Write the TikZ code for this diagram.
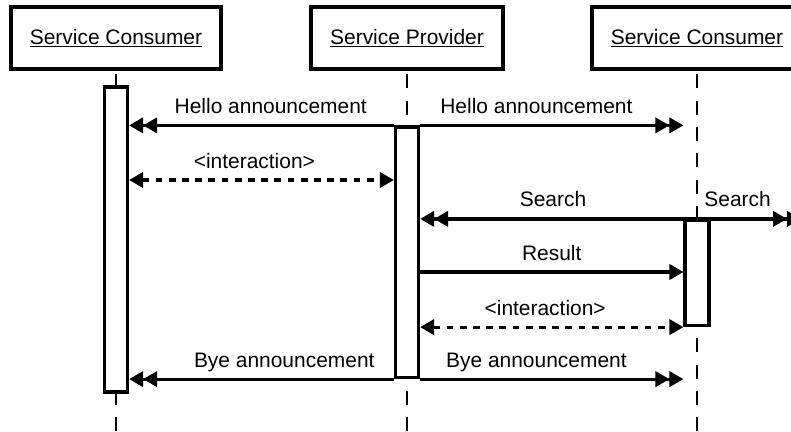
\documentclass[tikz,border=0pt]{standalone}
\usepackage{fontspec}
\setmainfont{Liberation Sans}
\usetikzlibrary{arrows.meta,positioning,calc}
\tikzset{
    actor/.style={draw,fill=white,line width=2.3pt,minimum width=5.25cm,
      minimum height=1.55cm,inner sep=0pt},
    lifeline/.style={line width=1.3pt,dash pattern=on 3.5mm off 3.1mm},
    actbar/.style={draw,fill=white,line width=2.3pt,minimum width=5.75mm,inner sep=0pt},
    msg/.style={line width=2.3pt},
    dbl/.style={-{Triangle[length=3.5mm,width=3.8mm,sep=0pt]Triangle[length=3.5mm,width=3.8mm,sep=0pt]}},
    sgl/.style={-{Triangle[length=3.5mm,width=3.8mm]}},
    twoway/.style={{Triangle[length=3.5mm,width=3.8mm]}-{Triangle[length=3.5mm,width=3.8mm]}},
    ret/.style={dash pattern=on 1.7mm off 1.6mm},
    msglabel/.style={anchor=base,yshift=3mm,inner sep=0pt}
}
\begin{document}
\begin{tikzpicture}[font={\fontsize{14.9}{18}\selectfont}]
  \clip (0,0) rectangle (19.775,-10.8);
  \node[actor] (cons1) at (2.9,-0.95) {\underline{Service Consumer}};
  \node[actor,minimum width=4.8cm] (prov) at (10.175,-0.95) {\underline{Service Provider}};
  \node[actor] (cons2) at (17.425,-0.95) {\underline{Service Consumer}};
  \draw[lifeline] ([yshift=-0.9mm]cons1.south) -- ++(0,-9.3);
  \draw[lifeline] ([yshift=-0.9mm]prov.south) -- ++(0,-9.3);
  \draw[lifeline] ([yshift=-0.9mm]cons2.south) -- ++(0,-9.3);
  \node[actbar,minimum height=7.625cm] (act1) at (2.9,-5.9875) {};
  \node[actbar,minimum height=6.2625cm] (actP) at (10.175,-6.30625) {};
  \node[actbar,minimum width=6mm,minimum height=2.625cm] (act3) at (17.425,-6.825) {};
  \coordinate (inter) at (0,-4.5);
  \coordinate (res) at (0,-6.8);
  \coordinate[right=2.6cm of act3.north] (srchout);
  \draw[msg,dbl] (actP.north west) -- node[msglabel,pos=.465]{Hello announcement} (act1.east |- actP.north west);
  \draw[msg,dbl,shorten >=3.4mm] (actP.north east) -- node[msglabel,pos=.42]{Hello announcement} (cons2 |- actP.north east);
  \draw[msg,twoway,ret] (act1.east |- inter) -- node[msglabel,pos=.473]{<interaction>} (actP.west |- inter);
  \draw[msg,dbl] (act3.north) -- node[msglabel,pos=.52]{Search} (actP.east |- act3.north);
  \draw[msg,dbl] (act3.north) -- node[msglabel,pos=.39]{Search} (srchout);
  \draw[msg,sgl] (actP.east |- res) -- node[msglabel,pos=.5]{Result} (act3.west |- res);
  \draw[msg,twoway,ret] (actP.east |- act3.south) -- node[msglabel,pos=.475]{<interaction>} (act3.south west);
  \draw[msg,dbl] (actP.south west) -- node[msglabel,pos=.414]{Bye announcement} (act1.east |- actP.south west);
  \draw[msg,dbl,shorten >=3.4mm] (actP.south east) -- node[msglabel,pos=.42]{Bye announcement} (cons2 |- actP.south east);
\end{tikzpicture}
\end{document}
